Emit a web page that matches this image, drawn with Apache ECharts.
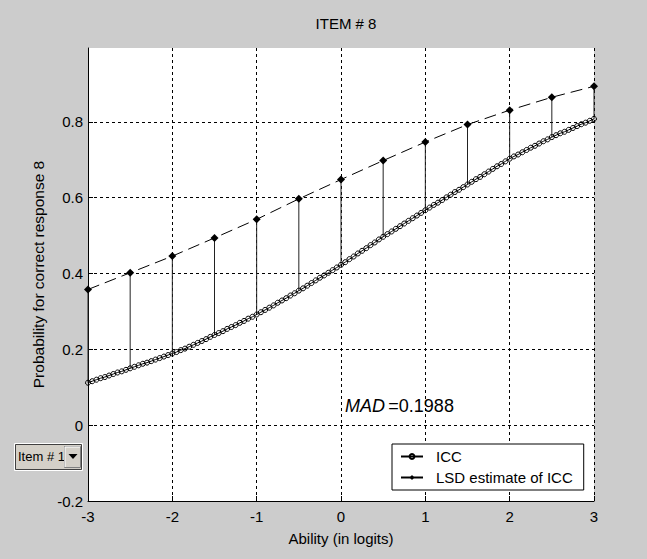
<!DOCTYPE html>
<html><head><meta charset="utf-8">
<script src="https://cdn.jsdelivr.net/npm/echarts@6/dist/echarts.min.js"></script>
<style>html,body{margin:0;padding:0;background:#cccccc}#c{width:647px;height:559px}</style>
</head><body><div id="c"></div>
<script>
// ---------- data ----------
const TITLE = 'ITEM # 8';
const X_NAME = 'Ability (in logits)';
const Y_NAME = 'Probability for correct response 8';
const MAD_VALUE = '=0.1988';
const SELECTOR_TEXT = 'Item # 1';
const SERIES_NAMES = ['ICC', 'LSD estimate of ICC'];

const ABILITY = [
 -3,-2.95,-2.9,-2.85,-2.8,-2.75,-2.7,-2.65,-2.6,-2.55,
 -2.5,-2.45,-2.4,-2.35,-2.3,-2.25,-2.2,-2.15,-2.1,-2.05,
 -2,-1.95,-1.9,-1.85,-1.8,-1.75,-1.7,-1.65,-1.6,-1.55,
 -1.5,-1.45,-1.4,-1.35,-1.3,-1.25,-1.2,-1.15,-1.1,-1.05,
 -1,-0.95,-0.9,-0.85,-0.8,-0.75,-0.7,-0.65,-0.6,-0.55,
 -0.5,-0.45,-0.4,-0.35,-0.3,-0.25,-0.2,-0.15,-0.1,-0.05,
 0,0.05,0.1,0.15,0.2,0.25,0.3,0.35,0.4,0.45,
 0.5,0.55,0.6,0.65,0.7,0.75,0.8,0.85,0.9,0.95,
 1,1.05,1.1,1.15,1.2,1.25,1.3,1.35,1.4,1.45,
 1.5,1.55,1.6,1.65,1.7,1.75,1.8,1.85,1.9,1.95,
 2,2.05,2.1,2.15,2.2,2.25,2.3,2.35,2.4,2.45,
 2.5,2.55,2.6,2.65,2.7,2.75,2.8,2.85,2.9,2.95,3
];
const ICC = [
 0.112,0.116,0.120,0.124,0.127,0.131,0.135,0.139,0.142,0.146,
 0.150,0.154,0.158,0.162,0.165,0.169,0.173,0.177,0.181,0.185,
 0.189,0.193,0.198,0.202,0.207,0.212,0.217,0.222,0.227,0.233,
 0.238,0.243,0.248,0.254,0.259,0.264,0.270,0.275,0.281,0.286,
 0.292,0.298,0.304,0.310,0.316,0.323,0.329,0.335,0.342,0.348,
 0.355,0.361,0.368,0.375,0.382,0.389,0.395,0.402,0.409,0.416,
 0.423,0.430,0.438,0.445,0.453,0.460,0.467,0.475,0.482,0.490,
 0.497,0.504,0.511,0.518,0.525,0.532,0.539,0.546,0.553,0.560,
 0.567,0.574,0.581,0.587,0.594,0.601,0.608,0.615,0.621,0.628,
 0.635,0.642,0.649,0.655,0.662,0.669,0.676,0.683,0.689,0.696,
 0.703,0.709,0.714,0.720,0.726,0.732,0.737,0.743,0.749,0.754,
 0.760,0.765,0.770,0.774,0.779,0.784,0.789,0.794,0.798,0.803,0.808
];
const LSD_X = [-3,-2.5,-2,-1.5,-1,-0.5,0,0.5,1,1.5,2,2.5,3];
const LSD = [0.358,0.402,0.446,0.494,0.543,0.597,0.648,0.698,0.747,0.793,0.831,0.865,0.894];
const X_TICKS = [-3,-2,-1,0,1,2,3];
const Y_TICKS = [-0.2,0,0.2,0.4,0.6,0.8];

// ---------- build ----------
const FONT = '"Liberation Sans", Arial, sans-serif';
const iccData = ABILITY.map((x, i) => [x, ICC[i]]);
const lsdData = LSD_X.map((x, i) => [x, LSD[i]]);
const stemData = LSD_X.map((x, i) => {
  const j = ABILITY.findIndex(a => Math.abs(a - x) < 1e-9);
  return [x, LSD[i], ICC[j]];
});
const isYTick = v => Y_TICKS.some(t => Math.abs(t - v) < 1e-6);

const chart = echarts.init(document.getElementById('c'), null, {renderer: 'svg'});
chart.setOption({
  backgroundColor: '#cccccc',
  animation: false,
  textStyle: {fontFamily: FONT},
  title: {
    text: TITLE, left: 341, top: 11, textAlign: 'center',
    textStyle: {fontFamily: FONT, fontSize: 15, fontWeight: 'normal', color: '#000'}
  },
  grid: {left: 88, right: 53, top: 48, bottom: 58, backgroundColor: '#fff', show: true, borderWidth: 0},
  legend: {
    orient: 'vertical', left: 392, top: 444,
    backgroundColor: '#fff', borderColor: '#000', borderWidth: 1, borderRadius: 0,
    padding: [5, 11, 5, 8], itemWidth: 22, itemHeight: 6, itemGap: 6,
    textStyle: {fontFamily: FONT, fontSize: 15, color: '#000', padding: [0, 0, 0, 8]},
    data: [
      {name: SERIES_NAMES[0]},
      {name: SERIES_NAMES[1], lineStyle: {type: 'solid'}}
    ]
  },
  xAxis: {
    type: 'value', min: X_TICKS[0], max: X_TICKS[X_TICKS.length - 1], interval: 1,
    name: X_NAME, nameLocation: 'middle', nameGap: 30,
    nameTextStyle: {fontFamily: FONT, fontSize: 15, color: '#000'},
    axisLine: {show: true, onZero: false, lineStyle: {color: '#000', width: 1}},
    axisTick: {show: true, inside: true, length: 5, lineStyle: {color: '#000'}},
    axisLabel: {fontFamily: FONT, fontSize: 15, color: '#000', margin: 8},
    splitLine: {show: true, lineStyle: {color: '#000', type: [3, 3], width: 1}}
  },
  yAxis: {
    type: 'value', min: Y_TICKS[0], max: 0.995, interval: 0.2,
    name: Y_NAME, nameLocation: 'middle', nameGap: 40,
    nameTextStyle: {fontFamily: FONT, fontSize: 15.5, color: '#000'},
    axisLine: {show: true, onZero: false, lineStyle: {color: '#000', width: 1}},
    axisTick: {show: true, inside: true, length: 5, lineStyle: {color: '#000'}},
    axisLabel: {
      fontFamily: FONT, fontSize: 15, color: '#000', margin: 5, showMaxLabel: false,
      formatter: v => isYTick(v) ? String(+v.toFixed(1)) : ''
    },
    splitLine: {show: true, showMaxLine: false, lineStyle: {color: '#000', type: [3, 3], width: 1}}
  },
  graphic: [
    {
      type: 'text', left: 345, top: 397, z: 10,
      style: {
        text: '{i|MAD} {n|' + MAD_VALUE + '}',
        rich: {
          i: {fontFamily: FONT, fontSize: 18, fontStyle: 'italic', fill: '#000'},
          n: {fontFamily: FONT, fontSize: 18, fill: '#000'}
        }
      }
    },
    {type: 'rect', shape: {x: 14.5, y: 443.5, width: 68, height: 27}, style: {fill: '#d4d0c8', stroke: '#ffffff', lineWidth: 1}},
    {type: 'rect', shape: {x: 15.5, y: 444.5, width: 66, height: 25}, style: {fill: '#d4d0c8', stroke: '#404040', lineWidth: 1}},
    {type: 'text', left: 18, top: 450, style: {text: SELECTOR_TEXT, fontFamily: FONT, fontSize: 13, fill: '#000'}},
    {type: 'rect', shape: {x: 64.5, y: 446.5, width: 16, height: 21}, style: {fill: '#d4d0c8', stroke: '#808080', lineWidth: 1}},
    {type: 'polyline', shape: {points: [[65, 467], [65, 447], [80, 447]]}, style: {stroke: '#ffffff', lineWidth: 1}},
    {type: 'polygon', shape: {points: [[68.5, 454], [77.5, 454], [73, 459]]}, style: {fill: '#000'}}
  ],
  series: [
    {
      type: 'custom', name: 'stems', silent: true, z: 1,
      data: stemData,
      encode: {x: 0, y: [1, 2]},
      renderItem: (params, api) => {
        const a = api.coord([api.value(0), api.value(1)]);
        const b = api.coord([api.value(0), api.value(2)]);
        return {type: 'line', shape: {x1: a[0], y1: a[1], x2: b[0], y2: b[1]},
                style: {stroke: '#222', lineWidth: 1}};
      }
    },
    {
      type: 'line', name: SERIES_NAMES[0], data: iccData, z: 3,
      symbol: 'circle', symbolSize: 5, showAllSymbol: true,
      lineStyle: {color: '#000', width: 1},
      itemStyle: {color: 'rgba(255,255,255,0)', borderColor: '#000', borderWidth: 1}
    },
    {
      type: 'line', name: SERIES_NAMES[1], data: lsdData, z: 4,
      symbol: 'diamond', symbolSize: 8, showAllSymbol: true,
      lineStyle: {color: '#000', width: 1, type: [12, 6]},
      itemStyle: {color: '#000'}
    }
  ]
});
</script></body></html>
